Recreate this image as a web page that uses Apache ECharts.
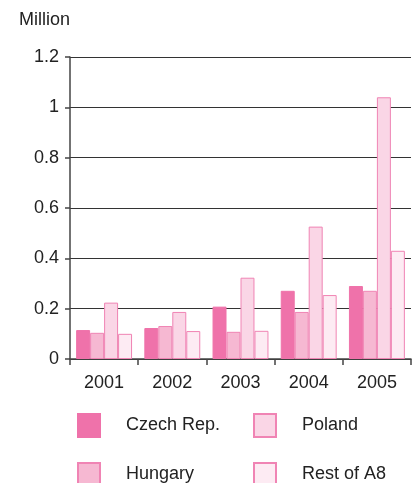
<!DOCTYPE html>
<html><head><meta charset="utf-8">
<script src="https://cdn.jsdelivr.net/npm/echarts@6/dist/echarts.min.js"></script>
<style>html,body{margin:0;padding:0;background:#fff}#c{width:420px;height:483px}</style>
</head><body><div id="c"></div>
<script>
const years = ['2001','2002','2003','2004','2005'];
const czech = [0.115, 0.123, 0.208, 0.271, 0.29];
const hungary = [0.104, 0.131, 0.108, 0.187, 0.271];
const poland = [0.224, 0.187, 0.323, 0.526, 1.04];
const restA8 = [0.10, 0.111, 0.112, 0.254, 0.43];
const seriesNames = ['Czech Rep.', 'Hungary', 'Poland', 'Rest of A8'];
const colors = ['#ef72aa', '#f6b8d2', '#fad6e6', '#fdebf3'];
const font = 'Liberation Sans, Arial, sans-serif';

const chart = echarts.init(document.getElementById('c'));
const dataSets = [czech, hungary, poland, restA8];
const legendPos = [[72, 408], [72, 457], [248, 408], [248, 457]];
chart.setOption({
  animation: false,
  title: { text: 'Million', left: 14, top: 6, textStyle: { fontFamily: font, fontSize: 18, fontWeight: 'normal', color: '#222' } },
  grid: { left: 70, right: 9, top: 57, bottom: 124 },
  legend: seriesNames.map((n, i) => ({
    data: [n], left: legendPos[i][0], top: legendPos[i][1], itemWidth: 22, itemHeight: 23, icon: 'rect',
    textStyle: { fontFamily: font, fontSize: 18, color: '#222', padding: [0, 0, 0, 21] }
  })),
  xAxis: {
    type: 'category', data: years,
    axisLine: { lineStyle: { color: '#444', width: 1.5 } },
    axisTick: { show: true, length: 6, lineStyle: { color: '#444', width: 1.5 } },
    axisLabel: { fontFamily: font, fontSize: 18, color: '#222', margin: 15 }
  },
  yAxis: {
    type: 'value', min: 0, max: 1.2, interval: 0.2,
    axisLine: { show: true, lineStyle: { color: '#444', width: 1.5 } },
    axisTick: { show: true, length: 5, lineStyle: { color: '#444', width: 1.5 } },
    axisLabel: { fontFamily: font, fontSize: 18, color: '#222', margin: 11,
      formatter: v => String(Math.round(v * 10) / 10) },
    splitLine: { lineStyle: { color: '#333', width: 1 } }
  },
  series: seriesNames.map((n, i) => ({
    name: n, type: 'bar', data: dataSets[i],
    barGap: 0, barCategoryGap: '18%',
    itemStyle: { color: colors[i], borderColor: i === 0 ? '#ef72aa' : '#f084b4', borderWidth: 1 }
  }))
});
</script></body></html>
